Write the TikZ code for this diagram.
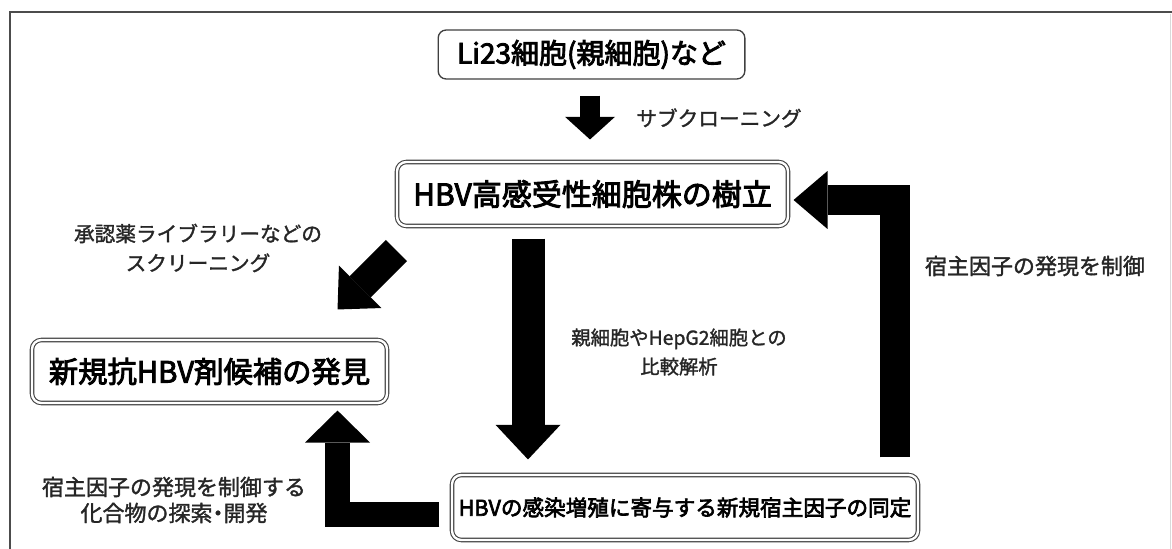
\documentclass[tikz,border=0pt]{standalone}
\usepackage{fontspec}
\newfontfamily\jp[FakeBold=1.5]{Noto Sans CJK JP}
\newfontfamily\jpb[FakeBold=3]{Noto Sans CJK JP}
\usetikzlibrary{arrows.meta,calc}
\tikzset{
  frameline/.style={draw=black!70, line width=1.5pt},
  sbox/.style={draw=black!75, line width=1pt, rounded corners=6pt, fill=white, inner sep=0pt, align=center},
  dbox/.style={sbox, line width=0.8pt, double=white, double distance=1.8pt, rounded corners=7pt},
  lbl/.style={align=center, inner sep=0pt, text=black!85},
  fat/.style={draw=black, line cap=butt, line join=miter},
}
\begin{document}
\begin{tikzpicture}[x=0.75pt,y=-0.75pt]
\useasboundingbox (0,0) rectangle (1172,549);
\draw[frameline] (10,549) -- (10,12) -- (1172,12);
\draw[black!15, line width=0.6pt] (1170,14) -- (1170,549);

% boxes
\node[sbox, minimum width=230pt, minimum height=36.75pt, font=\jpb\fontsize{21}{25}\selectfont] (b1) at (591.5,54.5) {Li23細胞(親細胞)など};
\node[dbox, minimum width=293.25pt, minimum height=48pt, font=\jpb\fontsize{22.5}{27}\selectfont] (b2) at (592.5,194) {HBV高感受性細胞株の樹立};
\node[dbox, minimum width=266.25pt, minimum height=47.25pt, font=\jpb\fontsize{22}{26}\selectfont] (b3) at (209.5,371.5) {新規抗HBV剤候補の発見};
\node[dbox, minimum width=349.5pt, minimum height=48.75pt, font=\jpb\fontsize{16.2}{20}\selectfont] (b4) at (685,507.5) {HBVの感染増殖に寄与する新規宿主因子の同定};

% labels
\node[lbl, font=\jp\fontsize{15.5}{18}\selectfont] (l1) at (719,118) {サブクローニング};
\node[lbl, font=\jp\fontsize{15.5}{22}\selectfont] (l2) at (198,248) {承認薬ライブラリーなどの\\スクリーニング};
\node[lbl, font=\jp\fontsize{14.5}{21.75}\selectfont] (l3) at (679,352) {親細胞やHepG2細胞との\\比較解析};
\node[lbl, font=\jp\fontsize{16.5}{20}\selectfont] (l4) at (1035,266) {宿主因子の発現を制御};
\node[lbl, font=\jp\fontsize{16.5}{19.5}\selectfont] (l5) at (174,500) {宿主因子の発現を制御する\\化合物の探索\kern-0.25em・\kern-0.25em開発};

% arrows
\coordinate (a1s) at ($(b1.south)+(-1.5,16)$);
\coordinate (a1e) at ($(b2.north)+(-2.5,-22)$);
\draw[fat, line width=15pt, -{Triangle[width=37.5pt 0 0, length=17pt 0 0, line width=0pt 0 0]}] (a1s) -- (a1e);

\coordinate (a2s) at ($(b2.south)+(-64.5,12)$);
\coordinate (a2e) at ($(b4.north)+(-157,-15)$);
\draw[fat, line width=24.75pt, -{Triangle[width=48.75pt 0 0, length=26pt 0 0, line width=0pt 0 0]}] (a2s) -- (a2e);

\coordinate (a3s) at ($(b4.north east)+(-24,-17)$);
\coordinate (a3e) at ($(b2.east)+(5,6)$);
\draw[fat, line width=22.5pt, -{Triangle[width=43.5pt 0 0, length=25.5pt 0 0, line width=0pt 0 0]}] (a3s) |- (a3e);

\coordinate (a4s) at ($(b2.south west)+(0,24)$);
\coordinate (a4e) at ($(b3.north east)+(-50,-30)$);
\draw[fat, line width=22.5pt, -{Triangle[width=45pt 0 0, length=24pt 0 0, line width=0pt 0 0]}] (a4s) -- (a4e);

\coordinate (a5s) at ($(b4.west)+(-12,6.5)$);
\coordinate (a5e) at ($(b3.south)+(128,7)$);
\draw[fat, line width=18.75pt, -{Triangle[width=48.75pt 0 0, length=24pt 0 0, line width=0pt 0 0]}] (a5s) -| (a5e);
\end{tikzpicture}
\end{document}
